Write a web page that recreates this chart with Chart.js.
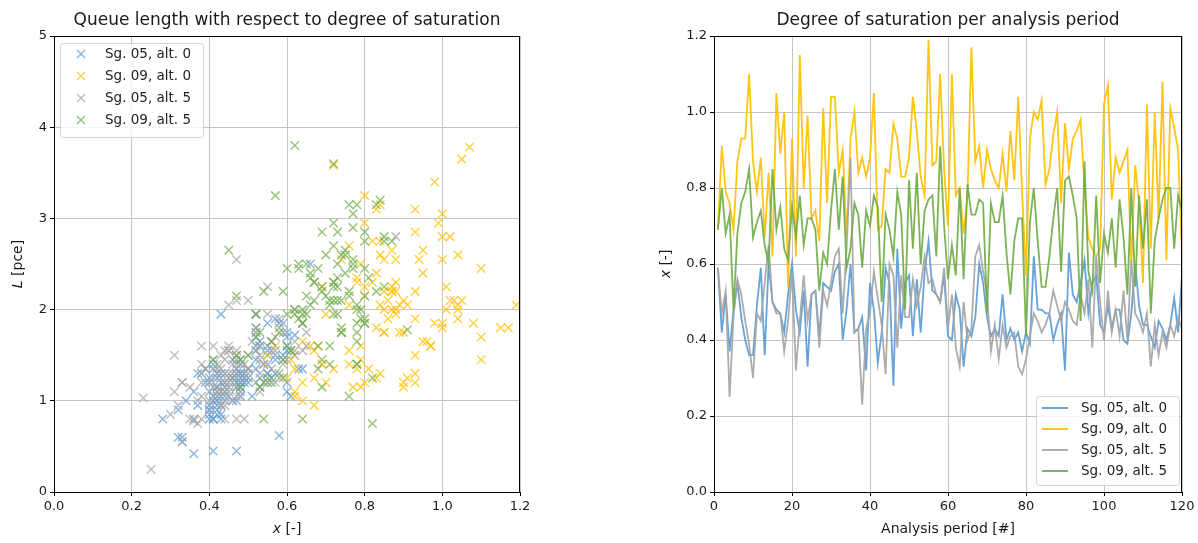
<!DOCTYPE html>
<html>
<head>
<meta charset="utf-8">
<script src="https://cdn.jsdelivr.net/npm/chart.js@4.4.1/dist/chart.umd.min.js"></script>
<style>
  body { margin: 0; background: #fff; }
  #queueChart { position: absolute; left: 0; top: 0; }
  #satChart { position: absolute; left: 650px; top: 0; }
</style>
</head>
<body>
<canvas id="queueChart" width="540" height="543"></canvas>
<canvas id="satChart" width="548" height="543"></canvas>
<script>
// Series labels and colours
const seriesLabels = ['Sg. 05, alt. 0', 'Sg. 09, alt. 0', 'Sg. 05, alt. 5', 'Sg. 09, alt. 5'];
const seriesColors = ['91, 155, 213', '255, 192, 0', '165, 165, 165', '112, 173, 71'];

// Analysis periods 1..120
const periods = Array.from({ length: 120 }, (_, i) => i + 1);

// Degree of saturation x [-] per analysis period
const satSg05Alt0 = [
  0.59,0.42,0.52,0.37,0.48,0.55,0.46,0.40,0.36,0.36,
  0.49,0.59,0.36,0.60,0.50,0.48,0.47,0.42,0.52,0.60,
  0.48,0.42,0.53,0.33,0.52,0.53,0.41,0.55,0.54,0.53,
  0.58,0.60,0.40,0.48,0.60,0.42,0.43,0.46,0.32,0.55,
  0.48,0.34,0.42,0.59,0.55,0.28,0.64,0.43,0.55,0.57,
  0.41,0.56,0.42,0.58,0.66,0.53,0.52,0.50,0.57,0.41,
  0.40,0.52,0.48,0.33,0.43,0.41,0.46,0.60,0.55,0.46,
  0.41,0.43,0.41,0.52,0.40,0.43,0.40,0.42,0.37,0.42,
  0.39,0.62,0.48,0.48,0.47,0.47,0.40,0.44,0.47,0.32,
  0.63,0.52,0.50,0.55,0.61,0.47,0.55,0.57,0.44,0.42,
  0.49,0.43,0.48,0.48,0.40,0.39,0.47,0.60,0.49,0.44,
  0.44,0.41,0.38,0.45,0.43,0.40,0.44,0.51,0.42,0.57];
const satSg09Alt0 = [
  0.69,0.91,0.79,0.76,0.69,0.87,0.93,0.93,1.10,0.87,
  0.79,0.88,0.67,0.84,0.62,1.05,0.89,1.00,0.54,0.93,
  0.62,1.15,0.80,0.99,0.72,0.74,0.66,1.01,0.76,1.04,
  1.04,0.84,0.90,0.67,0.93,1.00,0.84,0.88,0.83,0.88,
  1.05,0.69,0.70,0.85,0.84,0.97,0.93,0.83,0.83,0.88,
  1.04,0.95,0.83,0.78,1.19,0.86,0.87,1.10,0.85,0.70,
  1.10,0.78,0.80,0.68,0.78,1.17,0.87,0.91,0.80,0.90,
  0.85,0.82,0.80,0.89,0.79,0.95,0.82,1.04,0.79,0.57,
  0.93,1.00,0.98,1.03,0.81,0.85,0.94,1.00,0.76,0.97,
  0.85,0.93,0.95,0.98,0.80,0.67,0.64,0.62,0.64,1.02,
  1.07,0.77,0.88,0.84,0.87,0.90,0.60,0.86,0.76,0.55,
  1.02,0.64,1.00,0.72,1.08,0.61,1.01,0.96,0.90,0.62];
const satSg05Alt5 = [
  0.59,0.47,0.53,0.25,0.46,0.56,0.52,0.45,0.39,0.30,
  0.47,0.45,0.55,0.65,0.50,0.47,0.47,0.37,0.45,0.58,
  0.32,0.45,0.57,0.45,0.52,0.53,0.38,0.53,0.49,0.55,
  0.62,0.64,0.47,0.64,0.88,0.42,0.43,0.23,0.43,0.47,
  0.58,0.51,0.44,0.31,0.60,0.57,0.38,0.57,0.46,0.46,
  0.56,0.49,0.54,0.62,0.55,0.56,0.52,0.50,0.59,0.43,
  0.52,0.38,0.33,0.50,0.40,0.43,0.62,0.65,0.58,0.52,
  0.37,0.44,0.35,0.44,0.38,0.41,0.42,0.33,0.31,0.35,
  0.41,0.47,0.45,0.42,0.44,0.47,0.53,0.49,0.45,0.50,
  0.48,0.45,0.44,0.52,0.47,0.56,0.38,0.62,0.50,0.40,
  0.53,0.42,0.48,0.41,0.53,0.40,0.61,0.47,0.45,0.42,
  0.47,0.33,0.44,0.36,0.42,0.38,0.44,0.41,0.46,0.43];
const satSg09Alt5 = [
  0.69,0.80,0.68,0.73,0.48,0.68,0.76,0.79,0.85,0.67,
  0.71,0.74,0.65,0.60,0.85,0.69,0.75,0.64,0.61,0.75,
  0.67,0.78,0.65,0.72,0.72,0.69,0.53,0.63,0.60,0.74,
  0.85,0.69,0.83,0.59,0.64,0.76,0.73,0.59,0.74,0.70,
  0.78,0.75,0.50,0.73,0.69,0.62,0.79,0.73,0.48,0.82,
  0.64,0.84,0.60,0.74,0.77,0.78,0.62,0.91,0.70,0.56,
  0.65,0.57,0.80,0.56,0.81,0.73,0.73,0.77,0.76,0.47,
  0.76,0.71,0.71,0.78,0.63,0.52,0.66,0.72,0.72,0.41,
  0.71,0.80,0.66,0.54,0.54,0.62,0.72,0.80,0.58,0.82,
  0.83,0.78,0.72,0.45,0.87,0.58,0.53,0.78,0.55,0.68,
  0.63,0.72,0.59,0.77,0.67,0.52,0.80,0.54,0.78,0.64,
  0.77,0.47,0.66,0.72,0.77,0.80,0.80,0.64,0.78,0.74];

// Queue length L [pce] per analysis period
const queueSg05Alt0 = [
  1.85,1.05,1.45,0.95,1.30,1.60,1.25,0.85,1.10,0.42,
  1.20,1.50,0.80,1.75,1.35,1.20,0.45,1.30,1.55,1.10,
  1.05,0.95,1.65,0.55,1.70,1.25,0.80,1.50,1.40,1.15,
  1.85,1.55,1.20,1.10,1.70,0.90,1.95,1.00,0.60,1.30,
  1.25,1.00,1.15,1.45,1.20,0.80,1.35,0.85,1.40,1.90,
  0.45,1.25,1.00,0.62,2.50,1.60,1.80,1.20,1.45,1.05,
  0.90,1.35,1.45,0.60,1.30,0.80,1.45,1.60,1.55,1.25,
  1.00,1.20,1.35,1.95,1.25,1.05,1.10,0.85,1.30,1.15,
  1.20,1.72,1.30,1.20,1.30,1.00,0.80,1.10,1.35,0.90,
  1.35,1.60,1.25,1.30,1.05,1.15,1.85,1.30,1.05,1.10,
  1.25,0.95,1.15,1.40,0.95,1.35,1.20,1.20,1.30,1.30,
  1.20,1.40,1.30,1.05,0.80,0.90,1.15,1.05,1.25,1.50];
const queueSg09Alt0 = [
  1.40,2.05,1.15,1.55,2.25,2.25,1.50,2.85,2.45,2.65,
  1.45,2.20,1.25,2.60,1.35,2.10,1.75,1.85,1.40,1.90,
  1.05,1.80,2.15,2.95,3.58,2.55,1.60,2.25,2.70,2.00,
  2.60,3.15,1.20,0.95,1.30,3.05,2.05,2.30,1.25,2.55,
  3.65,1.40,1.95,2.20,2.75,1.60,2.20,1.80,2.40,1.95,
  2.05,2.65,3.10,2.35,2.05,1.90,2.20,1.45,1.75,1.20,
  1.70,1.35,3.25,1.60,2.30,1.80,2.00,1.25,1.20,2.10,
  2.55,2.75,2.95,2.05,1.60,1.65,2.30,1.90,2.50,1.60,
  3.10,2.80,1.85,2.10,1.35,1.75,2.55,1.80,1.40,1.60,
  2.00,1.20,2.40,3.40,2.25,1.55,1.65,1.50,1.20,2.80,
  3.78,1.15,2.00,1.30,2.20,1.75,1.25,2.10,2.05,1.50,
  2.10,1.00,2.55,1.35,1.85,1.45,2.00,1.65,1.15,1.10];
const queueSg05Alt5 = [
  1.75,1.40,1.60,0.25,1.20,1.65,1.95,1.55,1.35,0.85,
  1.15,1.30,2.25,1.75,2.10,1.05,1.50,1.00,1.10,1.90,
  0.95,1.25,1.55,2.05,1.75,1.45,1.60,1.30,1.40,1.20,
  1.65,1.85,2.55,1.55,2.80,1.15,1.50,1.03,1.25,1.55,
  1.80,1.65,1.10,1.50,1.45,1.20,1.20,1.70,1.00,1.30,
  1.35,0.80,1.40,1.55,1.95,1.65,1.20,1.50,1.40,1.10,
  1.80,0.80,0.55,1.35,1.00,0.95,2.00,1.60,1.25,1.55,
  0.75,1.45,1.15,0.80,1.05,1.60,1.30,1.20,1.10,0.80,
  1.45,2.10,1.55,1.40,1.20,0.80,1.10,1.25,1.60,1.30,
  1.40,1.20,1.55,1.75,1.45,1.55,1.40,1.50,1.35,1.20,
  1.60,1.10,1.05,1.25,1.50,0.90,1.55,1.30,1.15,1.35,
  1.25,1.20,1.00,0.78,1.05,1.30,0.95,1.15,1.40,1.35];
const queueSg09Alt5 = [
  2.20,2.45,1.60,2.10,1.45,1.35,2.20,1.90,2.80,2.30,
  2.05,1.80,2.15,1.95,2.25,2.85,2.40,1.85,1.55,2.65,
  2.10,2.05,1.95,3.60,2.30,1.45,1.75,2.45,1.60,2.10,
  2.75,2.25,2.20,1.25,1.85,3.15,2.50,2.20,1.75,2.15,
  1.40,2.60,1.50,2.35,1.15,3.80,2.00,2.25,1.15,1.25,
  2.00,3.20,2.45,1.75,3.05,1.85,1.95,1.78,2.60,1.20,
  2.50,3.25,1.85,1.65,2.35,2.85,1.95,2.50,1.05,2.15,
  2.15,2.10,1.60,1.75,2.50,1.95,2.35,2.95,2.30,1.45,
  1.40,2.85,2.05,1.20,0.80,2.00,2.70,2.15,1.75,0.75,
  3.15,1.65,2.25,2.65,2.75,1.30,1.15,1.40,1.25,2.45,
  1.90,2.10,1.45,2.55,2.30,1.70,1.85,2.20,2.00,0.80,
  2.90,1.50,2.40,1.95,2.45,1.90,2.75,1.95,3.15,2.60];

const satSeries = [satSg05Alt0, satSg09Alt0, satSg05Alt5, satSg09Alt5];
const queueSeries = [queueSg05Alt0, queueSg09Alt0, queueSg05Alt5, queueSg09Alt5];

const FONT = "'DejaVu Sans', sans-serif";
const rgba = (c, a) => `rgba(${c}, ${a})`;

// Draw text made of [text, italic] pieces, centred on (x, y), optionally rotated
function drawPieces(ctx, pieces, x, y, size, rotate) {
  ctx.save();
  ctx.translate(x, y);
  if (rotate) ctx.rotate(-Math.PI / 2);
  const fontOf = (it) => `${it ? 'italic ' : ''}${size}px ${FONT}`;
  let total = 0;
  pieces.forEach(([t, it]) => { ctx.font = fontOf(it); total += ctx.measureText(t).width; });
  let cx = -total / 2;
  ctx.fillStyle = '#1a1a1a';
  ctx.textBaseline = 'middle';
  ctx.textAlign = 'left';
  pieces.forEach(([t, it]) => {
    ctx.font = fontOf(it);
    ctx.fillText(t, cx, 0);
    cx += ctx.measureText(t).width;
  });
  ctx.restore();
}

// matplotlib-like frame, title, axis labels and legend box
const mplLook = {
  id: 'mplLook',
  afterDraw(chart, args, opts) {
    const { ctx, chartArea: a } = chart;
    ctx.save();
    ctx.strokeStyle = '#000';
    ctx.lineWidth = 1;
    ctx.strokeRect(Math.round(a.left) + 0.5, Math.round(a.top) + 0.5,
      Math.round(a.right - a.left) - 1, Math.round(a.bottom - a.top));
    ctx.restore();

    drawPieces(ctx, [[opts.title, false]], (a.left + a.right) / 2, 21, 17, false);
    drawPieces(ctx, opts.xTitle, (a.left + a.right) / 2, 529, 14, false);
    drawPieces(ctx, opts.yTitle, opts.yTitleX, (a.top + a.bottom) / 2, 14, true);

    const lg = opts.legend;
    ctx.save();
    ctx.beginPath();
    ctx.roundRect(lg.x + 0.5, lg.y + 0.5, lg.w, lg.h, 3);
    ctx.fillStyle = 'rgba(255, 255, 255, 0.8)';
    ctx.fill();
    ctx.strokeStyle = '#d0d0d0';
    ctx.lineWidth = 1;
    ctx.stroke();
    ctx.font = `13.5px ${FONT}`;
    ctx.textBaseline = 'middle';
    seriesLabels.forEach((label, i) => {
      const ry = lg.y + lg.row0 + i * lg.rowGap;
      if (lg.kind === 'cross') {
        const mx = lg.x + lg.markX, r = 4;
        ctx.strokeStyle = rgba(seriesColors[i], 0.75);
        ctx.lineWidth = 1.4;
        ctx.beginPath();
        ctx.moveTo(mx - r, ry - r); ctx.lineTo(mx + r, ry + r);
        ctx.moveTo(mx - r, ry + r); ctx.lineTo(mx + r, ry - r);
        ctx.stroke();
      } else {
        ctx.strokeStyle = rgba(seriesColors[i], 0.9);
        ctx.lineWidth = 2;
        ctx.beginPath();
        ctx.moveTo(lg.x + lg.markX - 13, ry); ctx.lineTo(lg.x + lg.markX + 13, ry);
        ctx.stroke();
      }
      ctx.fillStyle = '#222';
      ctx.fillText(label, lg.x + lg.textX, ry);
    });
    ctx.restore();
  }
};

const tickFont = { family: FONT, size: 13 };

function axis(min, max, step, fitKey, fitSize, fmt) {
  return {
    type: 'linear', min, max,
    ticks: { stepSize: step, color: '#1a1a1a', font: tickFont, padding: 3, callback: fmt },
    grid: { color: '#c4c4c4', lineWidth: 1, tickColor: '#000', tickLength: 4 },
    border: { color: '#000', width: 1 },
    afterFit: (s) => { s[fitKey] = fitSize; }
  };
}

document.addEventListener('DOMContentLoaded', () => {

  // Scatter: queue length against degree of saturation
  new Chart(document.getElementById('queueChart'), {
    type: 'scatter',
    data: {
      datasets: seriesLabels.map((label, i) => ({
        label,
        data: satSeries[i].map((x, k) => ({ x, y: queueSeries[i][k] })),
        pointStyle: 'crossRot',
        pointRadius: 6,
        pointBorderWidth: 1.5,
        borderColor: rgba(seriesColors[i], 0.7),
        backgroundColor: rgba(seriesColors[i], 0.7),
        order: 3 - i
      }))
    },
    options: {
      responsive: false,
      animation: false,
      events: [],
      layout: { padding: { left: 0, top: 36, right: 20, bottom: 0 } },
      scales: {
        x: axis(0, 1.2, 0.2, 'height', 51, (v) => v.toFixed(1)),
        y: axis(0, 5, 1, 'width', 54, (v) => String(v))
      },
      plugins: {
        legend: { display: false },
        tooltip: { enabled: false },
        mplLook: {
          title: 'Queue length with respect to degree of saturation',
          xTitle: [['x', true], [' [-]', false]],
          yTitle: [['L', true], [' [pce]', false]],
          yTitleX: 18,
          legend: { kind: 'cross', x: 60, y: 43, w: 143, h: 94, row0: 11, rowGap: 22, markX: 21, textX: 45 }
        }
      }
    },
    plugins: [mplLook]
  });

  // Lines: degree of saturation per analysis period
  new Chart(document.getElementById('satChart'), {
    type: 'line',
    data: {
      datasets: seriesLabels.map((label, i) => ({
        label,
        data: periods.map((p, k) => ({ x: p, y: satSeries[i][k] })),
        borderColor: rgba(seriesColors[i], 0.92),
        borderWidth: 1.8,
        pointRadius: 0,
        tension: 0,
        fill: false,
        order: 3 - i
      }))
    },
    options: {
      responsive: false,
      animation: false,
      events: [],
      layout: { padding: { left: 0, top: 36, right: 16, bottom: 0 } },
      scales: {
        x: axis(0, 120, 20, 'height', 51, (v) => String(v)),
        y: axis(0, 1.2, 0.2, 'width', 64, (v) => v.toFixed(1))
      },
      plugins: {
        legend: { display: false },
        tooltip: { enabled: false },
        mplLook: {
          title: 'Degree of saturation per analysis period',
          xTitle: [['Analysis period [#]', false]],
          yTitle: [['x', true], [' [-]', false]],
          yTitleX: 16,
          legend: { kind: 'line', x: 386, y: 396, w: 143, h: 89, row0: 12, rowGap: 21, markX: 19, textX: 45 }
        }
      }
    },
    plugins: [mplLook]
  });
});
</script>
</body>
</html>
